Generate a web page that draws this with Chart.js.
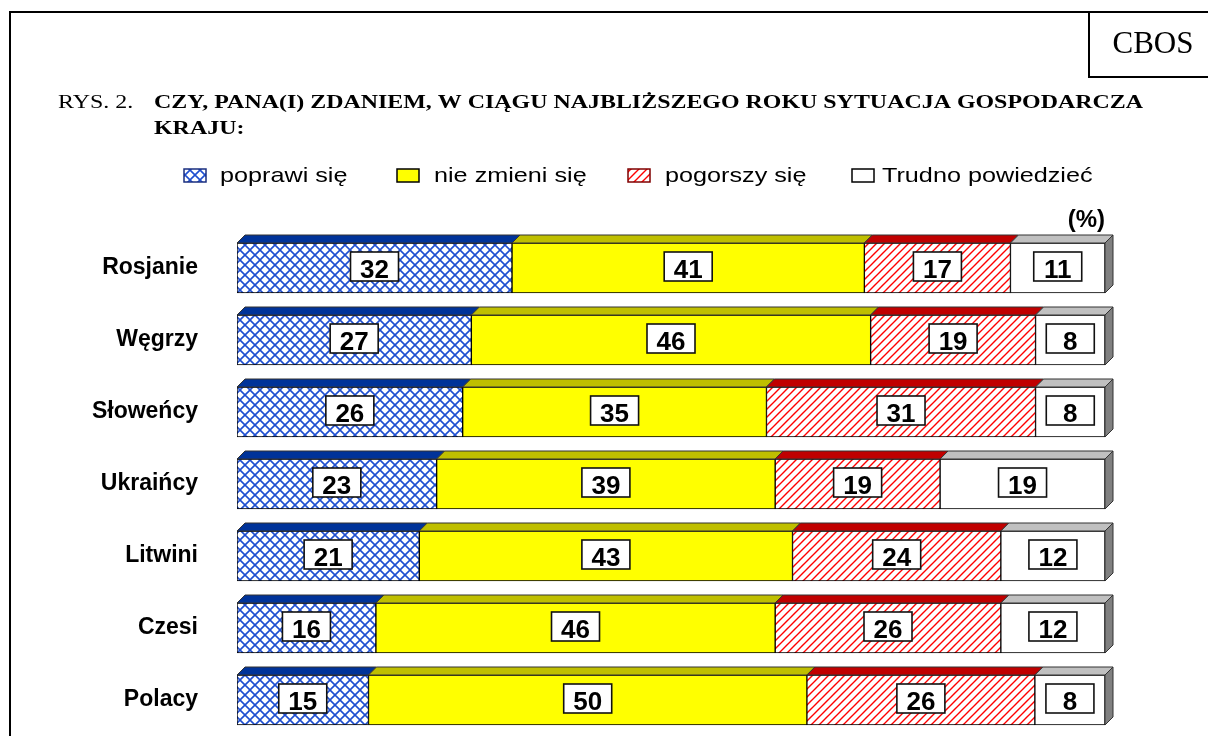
<!DOCTYPE html>
<html lang="pl">
<head>
<meta charset="utf-8">
<title>CBOS - sytuacja gospodarcza</title>
<script src="https://cdn.jsdelivr.net/npm/chart.js@4.4.0/dist/chart.umd.min.js"></script>
<style>
  html, body { margin: 0; padding: 0; background: #fff; }
  canvas { display: block; }
</style>
</head>
<body>
<canvas id="chart" width="1208" height="736"></canvas>
<script>
// dane z wykresu (%)
const categories = ['Rosjanie', 'Węgrzy', 'Słoweńcy', 'Ukraińcy', 'Litwini', 'Czesi', 'Polacy'];
const poprawi = [32, 27, 26, 23, 21, 16, 15];
const nieZmieni = [41, 46, 35, 39, 43, 46, 50];
const pogorszy = [17, 19, 31, 19, 24, 26, 26];
const trudno = [11, 8, 8, 19, 12, 12, 8];
const seriesNames = ['poprawi się', 'nie zmieni się', 'pogorszy się', 'Trudno powiedzieć'];

const titleLabel = 'RYS. 2.';
const titleLines = ['CZY, PANA(I) ZDANIEM, W CIĄGU NAJBLIŻSZEGO ROKU SYTUACJA GOSPODARCZA', 'KRAJU:'];

const SANS = '"Liberation Sans", Arial, sans-serif';
const SERIF = '"Liberation Serif", "Times New Roman", serif';
const DEPTH = 8;

// wzory wypełnienia
function makePattern(size, draw) {
  const c = document.createElement('canvas');
  c.width = size; c.height = size;
  const g = c.getContext('2d');
  g.fillStyle = '#fff';
  g.fillRect(0, 0, size, size);
  draw(g, size);
  return g.createPattern(c, 'repeat');
}

const ctx = document.getElementById('chart').getContext('2d');

const crossBlue = makePattern(10, (g, s) => {
  g.strokeStyle = '#1f4fd0';
  g.lineWidth = 1.6;
  g.beginPath();
  g.moveTo(-1, -1); g.lineTo(s + 1, s + 1);
  g.moveTo(s + 1, -1); g.lineTo(-1, s + 1);
  g.stroke();
});
const hatchRed = makePattern(8, (g, s) => {
  g.strokeStyle = '#ff0000';
  g.lineWidth = 1.4;
  g.beginPath();
  g.moveTo(-1, s + 1); g.lineTo(s + 1, -1);
  g.moveTo(-1, 1); g.lineTo(1, -1);
  g.moveTo(s - 1, s + 1); g.lineTo(s + 1, s - 1);
  g.stroke();
});

const fills = [crossBlue, '#ffff00', hatchRed, '#ffffff'];
const topColors = ['#003399', '#bfbf00', '#c00000', '#c0c0c0'];
const legendBorders = ['#1a2f80', '#000000', '#800000', '#000000'];
const rawSeries = [poprawi, nieZmieni, pogorszy, trudno];

// suma w wierszu (wykres 100%)
const rowTotals = categories.map((_, i) => rawSeries.reduce((s, arr) => s + arr[i], 0));

function scaledText(c, text, x, y, sx, align) {
  c.save();
  c.translate(x, y);
  c.scale(sx, 1);
  c.textAlign = align || 'left';
  c.fillText(text, 0, 0);
  c.restore();
}

// efekt 3D słupków
const bar3d = {
  id: 'bar3d',
  afterDatasetsDraw(chart) {
    const c = chart.ctx;
    const last = chart.data.datasets.length - 1;
    chart.data.datasets.forEach((ds, di) => {
      chart.getDatasetMeta(di).data.forEach(bar => {
        const p = bar.getProps(['x', 'y', 'base', 'height'], true);
        const l = Math.min(p.x, p.base), r = Math.max(p.x, p.base);
        const t = p.y - p.height / 2, b = p.y + p.height / 2;
        c.save();
        c.lineWidth = 1;
        c.strokeStyle = '#333';
        c.beginPath();
        c.moveTo(l, t);
        c.lineTo(l + DEPTH, t - DEPTH);
        c.lineTo(r + DEPTH, t - DEPTH);
        c.lineTo(r, t);
        c.closePath();
        c.fillStyle = topColors[di];
        c.fill();
        c.stroke();
        if (di === last) {
          c.beginPath();
          c.moveTo(r, t);
          c.lineTo(r + DEPTH, t - DEPTH);
          c.lineTo(r + DEPTH, b - DEPTH);
          c.lineTo(r, b);
          c.closePath();
          c.fillStyle = '#808080';
          c.fill();
          c.stroke();
        }
        c.restore();
      });
    });
  }
};

// etykiety wartości w ramkach
const valueBoxes = {
  id: 'valueBoxes',
  afterDatasetsDraw(chart) {
    const c = chart.ctx;
    chart.data.datasets.forEach((ds, di) => {
      chart.getDatasetMeta(di).data.forEach((bar, i) => {
        const p = bar.getProps(['x', 'y', 'base'], true);
        const cx = (p.x + p.base) / 2;
        const cy = p.y - 1.5;
        const w = 48, h = 29;
        c.save();
        c.fillStyle = '#fff';
        c.fillRect(cx - w / 2, cy - h / 2, w, h);
        c.lineWidth = 1.6;
        c.strokeStyle = '#111';
        c.strokeRect(cx - w / 2, cy - h / 2, w, h);
        c.fillStyle = '#000';
        c.font = 'bold 26px ' + SANS;
        c.textAlign = 'center';
        c.textBaseline = 'alphabetic';
        c.fillText(String(rawSeries[di][i]), cx, cy + 11);
        c.restore();
      });
    });
  }
};

// ramka, tytuł, legenda
const decor = {
  id: 'decor',
  afterDraw(chart) {
    const c = chart.ctx;
    c.save();
    c.strokeStyle = '#000';
    c.lineWidth = 2;
    c.beginPath();
    c.moveTo(10, 736); c.lineTo(10, 12); c.lineTo(1208, 12);
    c.moveTo(1089, 12); c.lineTo(1089, 77); c.lineTo(1208, 77);
    c.stroke();

    c.fillStyle = '#000';
    c.font = '31px ' + SERIF;
    c.textBaseline = 'alphabetic';
    c.textAlign = 'center';
    c.fillText('CBOS', 1153, 53);

    // tytuł
    c.font = 'bold 19px ' + SERIF;
    const sx = 989 / c.measureText(titleLines[0]).width;
    scaledText(c, titleLines[0], 154, 108, sx);
    scaledText(c, titleLines[1], 154, 134, sx);
    c.font = '19px ' + SERIF;
    scaledText(c, titleLabel, 58, 108, sx);

    // legenda
    const iconX = [184, 397, 628, 852];
    const textX = [220, 434, 665, 882];
    c.font = '21px ' + SANS;
    c.textBaseline = 'middle';
    seriesNames.forEach((name, k) => {
      c.fillStyle = fills[k];
      c.fillRect(iconX[k], 169, 22, 13);
      c.lineWidth = 1.5;
      c.strokeStyle = legendBorders[k];
      c.strokeRect(iconX[k], 169, 22, 13);
      c.fillStyle = '#000';
      scaledText(c, name, textX[k], 176, 1.2);
    });

    c.font = 'bold 24px ' + SANS;
    c.textAlign = 'right';
    c.fillText('(%)', 1105, 220);
    c.restore();
  }
};

new Chart(ctx, {
  type: 'bar',
  data: {
    labels: categories,
    datasets: rawSeries.map((arr, k) => ({
      label: seriesNames[k],
      data: arr.map((v, i) => v / rowTotals[i] * 100),
      backgroundColor: fills[k],
      borderColor: '#000',
      borderWidth: 1,
      borderSkipped: false,
      barThickness: 50
    }))
  },
  options: {
    indexAxis: 'y',
    responsive: false,
    animation: false,
    devicePixelRatio: 1,
    layout: { padding: { left: 10, right: 103, top: 232, bottom: 0 } },
    scales: {
      x: { stacked: true, min: 0, max: 100, display: false },
      y: {
        stacked: true,
        grid: { display: false },
        border: { display: false },
        ticks: {
          color: '#000',
          padding: 31,
          font: { family: SANS, size: 23, weight: 'bold' }
        },
        afterFit: s => {
          s.width = 227;
          s.paddingTop = 0;
          s.paddingBottom = 0;
        }
      }
    },
    plugins: {
      legend: { display: false },
      tooltip: { enabled: false }
    }
  },
  plugins: [bar3d, valueBoxes, decor]
});
</script>
</body>
</html>
